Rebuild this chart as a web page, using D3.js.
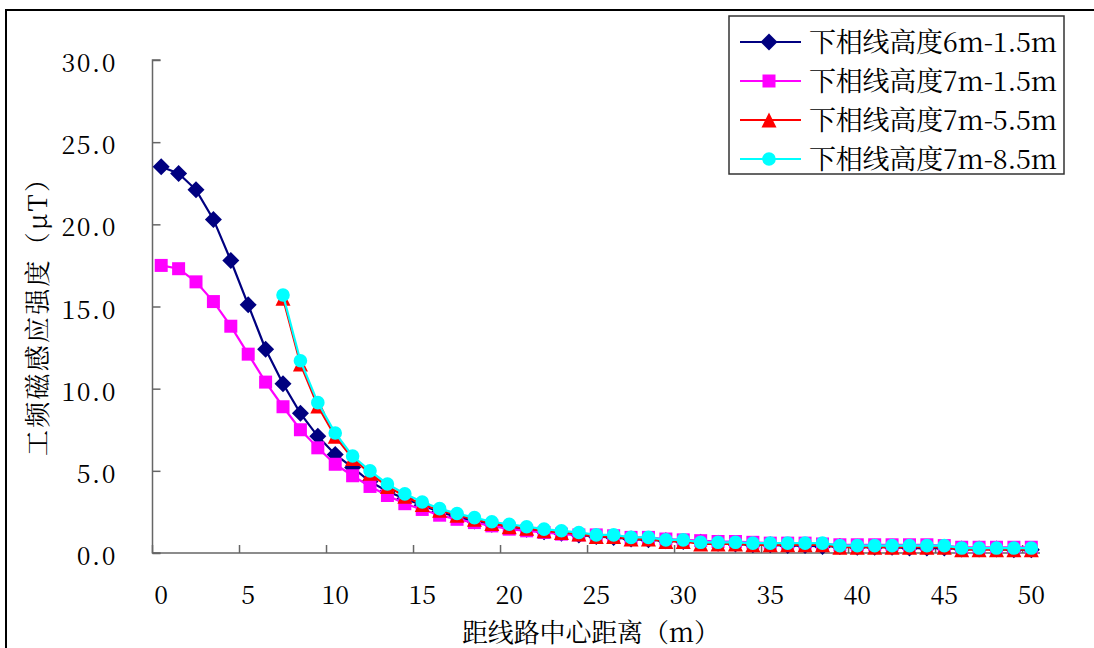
<!DOCTYPE html>
<html>
<head>
<meta charset="utf-8">
<script src="https://cdn.jsdelivr.net/npm/d3@7"></script>
<style>
html,body{margin:0;padding:0;background:#fff;}
svg{display:block;}
</style>
</head>
<body>
<svg id="chart" width="1094" height="648"></svg>
<script>
// ---- data ----
const distances = [0,1,2,3,4,5,6,7,8,9,10,11,12,13,14,15,16,17,18,19,20,21,22,23,24,25,26,27,28,29,30,31,32,33,34,35,36,37,38,39,40,41,42,43,44,45,46,47,48,49,50];
const xTickLabels = ["0","5","10","15","20","25","30","35","40","45","50"];
const yTicks = [0,5,10,15,20,25,30];
const yTickLabels = ["0.0","5.0","10.0","15.0","20.0","25.0","30.0"];
const seriesNames = ["下相线高度6m-1.5m","下相线高度7m-1.5m","下相线高度7m-5.5m","下相线高度7m-8.5m"];
const s6m15 = [23.5,23.1,22.1,20.3,17.8,15.1,12.4,10.3,8.5,7.1,6.0,5.2,4.35,3.75,3.3,2.9,2.5,2.2,1.95,1.75,1.6,1.45,1.3,1.2,1.1,1.0,0.95,0.85,0.8,0.75,0.7,0.65,0.6,0.55,0.5,0.5,0.45,0.45,0.4,0.4,0.35,0.35,0.35,0.3,0.3,0.3,0.25,0.25,0.25,0.2,0.2];
const s7m15 = [17.5,17.3,16.5,15.3,13.8,12.1,10.4,8.9,7.5,6.4,5.4,4.7,4.05,3.5,3.0,2.65,2.3,2.05,1.85,1.65,1.45,1.35,1.25,1.15,1.1,1.1,1.05,0.95,0.95,0.85,0.8,0.75,0.7,0.7,0.65,0.6,0.6,0.6,0.55,0.5,0.5,0.5,0.5,0.5,0.5,0.45,0.35,0.35,0.35,0.35,0.35];
const s7m55 = [null,null,null,null,null,null,null,15.5,11.5,8.95,7.1,5.75,4.85,4.05,3.45,2.95,2.6,2.3,2.05,1.8,1.6,1.5,1.35,1.25,1.15,1.0,1.0,0.85,0.85,0.7,0.7,0.55,0.55,0.55,0.5,0.5,0.5,0.5,0.5,0.35,0.35,0.35,0.35,0.35,0.35,0.35,0.2,0.2,0.2,0.2,0.2];
const s7m85 = [null,null,null,null,null,null,null,15.7,11.7,9.15,7.3,5.9,5.0,4.2,3.6,3.1,2.7,2.4,2.15,1.9,1.75,1.6,1.45,1.35,1.25,1.1,1.1,0.95,0.95,0.8,0.8,0.65,0.65,0.65,0.6,0.6,0.6,0.6,0.6,0.45,0.45,0.45,0.45,0.45,0.45,0.45,0.3,0.3,0.3,0.3,0.3];
const seriesValues = [s6m15, s7m15, s7m55, s7m85];
const colors = ["#000080","#FF00FF","#FF0000","#00FFFF"];
const markers = ["diamond","square","triangle","circle"];

// ---- layout ----
const svg = d3.select("#chart");
const plotL = 152.5, plotR = 1040, plotT = 60, plotB = 553;
const serif = "'Noto Serif CJK SC', 'Liberation Serif', serif";

// outer frame
svg.append("rect").attr("x",6).attr("y",10).attr("width",1200).attr("height",800)
  .attr("fill","none").attr("stroke","#000").attr("stroke-width",2);

const x = d3.scaleBand().domain(distances).range([plotL,plotR]).padding(0);
const bw = x.bandwidth();
const cx = d => x(d) + bw/2;
const y = d3.scaleLinear().domain([0,30]).range([plotB, plotT]);

// y axis
const yAxis = d3.axisRight(y).tickValues(yTicks).tickSize(8).tickFormat("");
const gy = svg.append("g").attr("transform",`translate(${plotL},0)`).call(yAxis);
gy.select(".domain").attr("stroke","#666").attr("stroke-width",1.5).attr("d",`M8,${plotT}H0V${plotB}H8`);
gy.selectAll(".tick line").attr("stroke","#666").attr("stroke-width",1.5);
svg.append("g").selectAll("text").data(yTicks).join("text")
  .attr("x",117).attr("y",d=>y(d)+12)
  .attr("text-anchor","end")
  .style("font-family",serif).attr("font-size",25).attr("fill","#000")
  .style("letter-spacing","1.5px")
  .text((d,i)=>yTickLabels[i]);

// x axis
const xTickCats = distances.filter(d => xTickLabels.includes(String(d)));
const gx = svg.append("g");
gx.append("line").attr("x1",plotL).attr("x2",plotR).attr("y1",plotB).attr("y2",plotB)
  .attr("stroke","#666").attr("stroke-width",1.5);
gx.selectAll("line.tk").data(xTickCats).join("line").attr("class","tk")
  .attr("x1",d=>x(d)).attr("x2",d=>x(d)).attr("y1",plotB).attr("y2",plotB-8)
  .attr("stroke","#666").attr("stroke-width",1.5);
gx.selectAll("text").data(xTickCats).join("text")
  .attr("x",d=>cx(d)).attr("y",604)
  .attr("text-anchor","middle")
  .style("font-family",serif).attr("font-size",25).attr("fill","#000")
  .text((d,i)=>xTickLabels[i]);

// titles
svg.append("text").attr("x",462).attr("y",642)
  .style("font-family",serif).attr("font-size",26).attr("fill","#000")
  .attr("textLength",258).attr("lengthAdjust","spacing")
  .text("距线路中心距离（m）");
svg.append("text").attr("transform","translate(47,456) rotate(-90)")
  .style("font-family",serif).attr("font-size",26).attr("fill","#000")
  .attr("textLength",290).attr("lengthAdjust","spacing")
  .text("工频磁感应强度（μT）");

// marker helper
function markerPath(type){
  if(type==="diamond") return "M0,-8.5L8.5,0L0,8.5L-8.5,0Z";
  if(type==="square") return "M-6.5,-6.5H6.5V6.5H-6.5Z";
  if(type==="triangle") return "M0,-7.5L7.5,7.5L-7.5,7.5Z";
  return d3.symbol(d3.symbolCircle, Math.PI*6.8*6.8)();
}

// series
const line = d3.line().defined(d=>d.v!=null).x(d=>cx(d.x)).y(d=>y(d.v));
seriesValues.forEach((vals,si)=>{
  const pts = distances.map((d,i)=>({x:d, v:vals[i]}));
  const g = svg.append("g");
  g.append("path").attr("d",line(pts)).attr("fill","none")
    .attr("stroke",colors[si]).attr("stroke-width",2.2);
  g.selectAll("path.m").data(pts.filter(p=>p.v!=null)).join("path").attr("class","m")
    .attr("transform",p=>`translate(${cx(p.x)},${y(p.v)})`)
    .attr("d",markerPath(markers[si])).attr("fill",colors[si]);
});

// legend
const lg = svg.append("g");
lg.append("rect").attr("x",729).attr("y",16).attr("width",335).attr("height",158)
  .attr("fill","#fff").attr("stroke","#333").attr("stroke-width",1.5);
const rowY = [42,81,120,159];
seriesNames.forEach((name,i)=>{
  lg.append("line").attr("x1",740).attr("x2",801).attr("y1",rowY[i]).attr("y2",rowY[i])
    .attr("stroke",colors[i]).attr("stroke-width",2.2);
  lg.append("path").attr("transform",`translate(769,${rowY[i]})`).attr("d",markerPath(markers[i])).attr("fill",colors[i]);
  lg.append("text").attr("x",809).attr("y",rowY[i]+10)
    .style("font-family",serif).attr("font-size",27).attr("fill","#000")
    .attr("textLength",248).attr("lengthAdjust","spacing")
    .text(name);
});
</script>
</body>
</html>
